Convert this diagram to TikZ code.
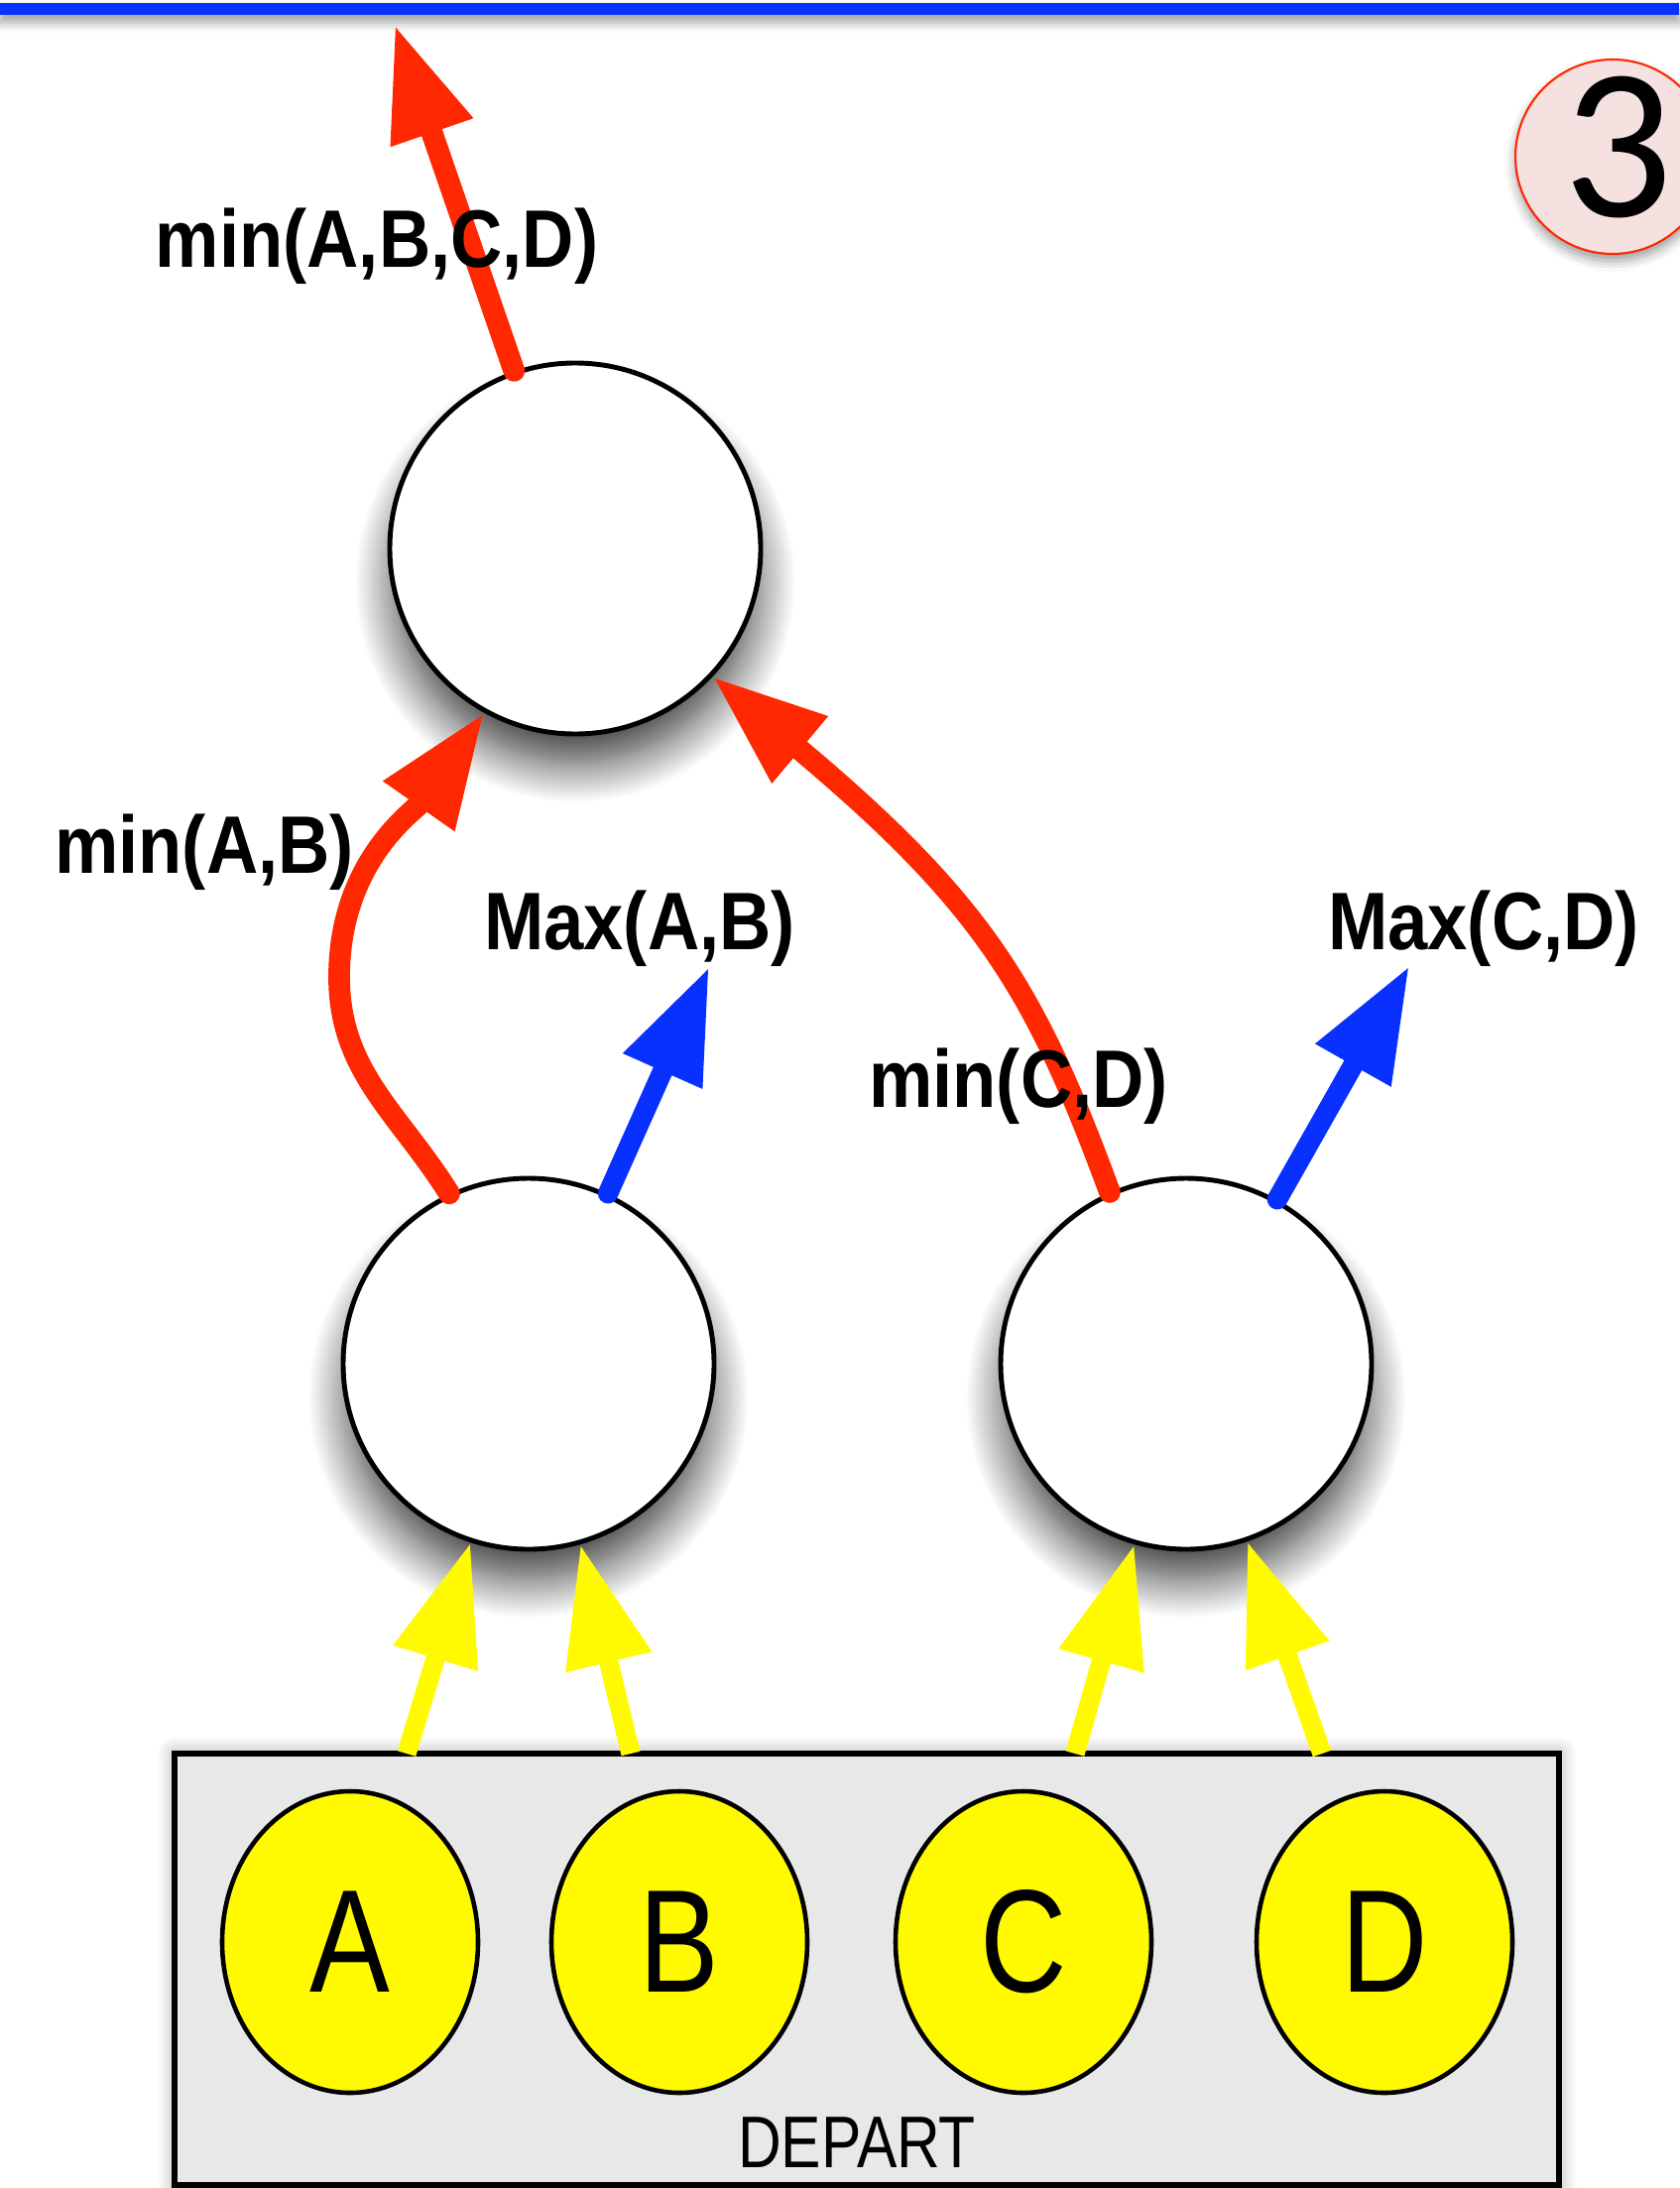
\documentclass[tikz,border=0pt]{standalone}
\usepackage{fontspec}
\newfontfamily\boldnarrow[FakeStretch=0.88]{Liberation Sans}
\newfontfamily\plainnarrow[FakeStretch=0.82]{Liberation Sans}
\newfontfamily\digitfont{Carlito}
\usepackage{tikz}
\usetikzlibrary{arrows.meta}
\usetikzlibrary{shapes.geometric,shadows.blur}
\tikzset{>={Triangle[length=11.5mm,width=8.2mm]}}
\usepackage{xcolor}
\definecolor{myred}{RGB}{255,40,0}
\definecolor{myblue}{RGB}{8,48,255}
\definecolor{myyellow}{RGB}{255,250,0}
\definecolor{mypink}{RGB}{244,225,224}
\colorlet{mylightgrey}{black!9}

\begin{document}
\begin{tikzpicture}[
    softshadow/.style={blur shadow={shadow xshift=0pt,shadow yshift=-10pt,shadow scale=0.97,
      shadow blur radius=12pt,shadow blur steps=24,shadow opacity=80}},
    knot/.style={circle,draw,line width=1.4pt,fill=white,minimum size=3.74cm,softshadow},
    leaf/.style={ellipse,draw,line width=1.3pt,fill=myyellow,minimum width=2.58cm,minimum height=3.04cm,inner sep=0pt,
      font=\plainnarrow\fontsize{42}{48}\selectfont},
    result/.style={anchor=base,font=\boldnarrow\bfseries\fontsize{23.4}{28}\selectfont},
    redarrow/.style={->,myred,line width=6.2pt,line cap=round},
    bluearrow/.style={->,myblue,line width=5.8pt,line cap=round},
    yellowarrow/.style={-{Triangle[length=12.2mm,width=8.4mm]},myyellow,line width=5.5pt},
  ]
        \useasboundingbox (0,0) rectangle (16.93,-22.06);

        % FRAME
        \fill[myblue,blur shadow={shadow xshift=0pt,shadow yshift=-2pt,shadow blur radius=3pt,shadow opacity=40}]
          (0,-0.03) rectangle (16.93,-0.15);
        \node[circle,draw=myred,line width=0.6pt,fill=mypink,minimum size=1.96cm,
          blur shadow={shadow xshift=0pt,shadow yshift=-2pt,shadow blur radius=3pt,shadow opacity=40}] (step) at (16.26,-1.58) {};
        \node[font=\digitfont\fontsize{62}{70}\selectfont] (stepnum) at (16.32,-1.49) {3};

        % NODES
        \node[knot] (top) at (5.80,-5.53) {};
        \node[knot] (mAB) at (5.33,-13.75) {};
        \node[knot] (mCD) at (11.96,-13.75) {};

        \node[draw,line width=1.7pt,fill=mylightgrey,minimum width=13.96cm,minimum height=4.35cm,
          blur shadow={shadow xshift=0pt,shadow yshift=0pt,shadow blur radius=5pt,shadow blur steps=12,shadow opacity=35}] (depart) at (8.74,-19.855) {};
        \node[leaf] (A) at (3.53,-19.58) {A};
        \node[leaf] (B) at (6.85,-19.58) {B};
        \node[leaf] (C) at (10.32,-19.58) {C};
        \node[leaf] (D) at (13.96,-19.58) {D};
        \node[font=\plainnarrow\fontsize{21}{25}\selectfont] (departlabel) at (8.64,-21.60) {DEPART};

        % COORDINATES
        \coordinate (exit) at (3.98,-0.25);
        \coordinate (maxAB) at (7.15,-9.75);
        \coordinate (maxCD) at (14.21,-9.74);
        \coordinate (inA) at (4.10,-17.68);
        \coordinate (inB) at (6.36,-17.68);
        \coordinate (inC) at (10.84,-17.68);
        \coordinate (inD) at (13.33,-17.68);

        % ARROWS
        \draw[yellowarrow] (inA) -- (mAB.-108);
        \draw[yellowarrow] (inB) -- (mAB.-74);
        \draw[yellowarrow] (inC) -- (mCD.-106);
        \draw[yellowarrow] (inD) -- (mCD.-71);

        \draw[redarrow] (mAB.115) to[out=122,in=-90] (3.42,-9.85) to[out=90,in=-125] (top.-119);
        \draw[redarrow] (mCD.114) .. controls (10.44,-9.99) and (9.93,-9.12) .. (top.-43);
        \draw[redarrow] (top.109) -- (exit);

        \draw[bluearrow] (mAB.65) -- (maxAB);
        \draw[bluearrow] (mCD.61) -- (maxCD);

        % LABELS
        \node[result] (minall) at (3.80,-2.70) {min(A,B,C,D)};
        \node[result] (minAB) at (2.06,-8.80) {min(A,B)};
        \node[result] (MaxAB) at (6.45,-9.57) {Max(A,B)};
        \node[result] (minCD) at (10.27,-11.16) {min(C,D)};
        \node[result] (MaxCD) at (14.96,-9.57) {Max(C,D)};

\end{tikzpicture}
\end{document}
